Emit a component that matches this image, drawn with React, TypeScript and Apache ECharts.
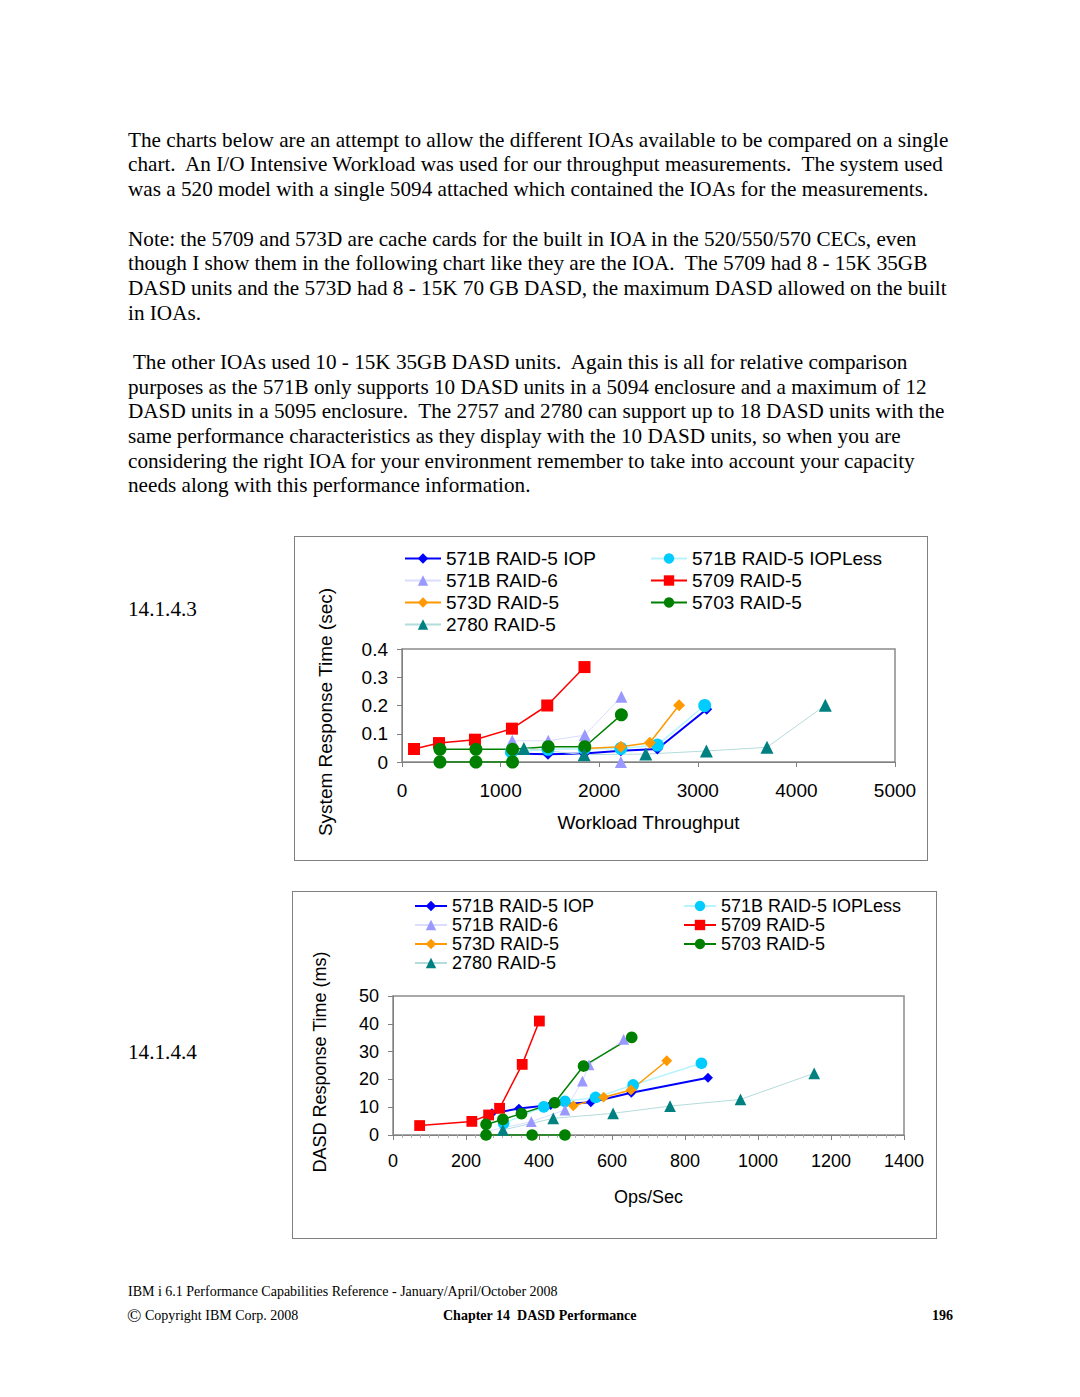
import React, { useEffect, useRef } from "react";
import * as echarts from "echarts";

// ---------- Data ----------
const legendCol1 = ["571B RAID-5 IOP", "571B RAID-6", "573D RAID-5", "2780 RAID-5"];
const legendCol2 = ["571B RAID-5 IOPLess", "5709 RAID-5", "5703 RAID-5"];

// Chart 14.1.4.3 : [Workload Throughput, System Response Time (sec)]
const iop1 = [[1100, 0.03], [1480, 0.027], [1850, 0.03], [2220, 0.04], [2590, 0.046], [3090, 0.187]];
const iopless1 = [[1110, 0.035], [1480, 0.045], [1850, 0.047], [2220, 0.048], [2590, 0.06], [3070, 0.2]];
const raid6_1 = [[1118, 0.075], [1483, 0.075], [1854, 0.095], [2225, 0.231]];
const raid6Zero1 = [[2220, 0]];
const r5709_1 = [[122, 0.046], [375, 0.067], [740, 0.079], [1115, 0.118], [1473, 0.2], [1851, 0.336]];
const r573d_1 = [[1854, 0.048], [2220, 0.054], [2513, 0.068], [2810, 0.201]];
const r5703_1 = [[385, 0.045], [750, 0.045], [1121, 0.045], [1483, 0.054], [1854, 0.054], [2225, 0.167]];
const r5703Zero1 = [[385, 0], [750, 0], [1121, 0]];
const r2780_1 = [[1236, 0.048], [1847, 0.026], [2472, 0.028], [3087, 0.039], [3702, 0.052], [4293, 0.201]];
const xTicks1 = { min: 0, max: 5000, interval: 1000 };
const yTicks1 = { min: 0, max: 0.4, interval: 0.1 };

// Chart 14.1.4.4 : [Ops/Sec, DASD Response Time (ms)]
const iop2 = [[271, 7.8], [345, 9.5], [432, 10.8], [542, 11.8], [653, 15.2], [863, 20.6]];
const iopless2 = [[303, 4.2], [413, 10.1], [471, 12.1], [555, 13.5], [658, 18.0], [845, 25.8]];
const raid6_2 = [[252, 1.2], [379, 4.8], [471, 9.0], [519, 19.4], [537, 25.2], [632, 34.4]];
const r5709_2 = [[73, 3.4], [216, 4.9], [262, 7.2], [292, 9.6], [354, 25.4], [401, 41.0]];
const r573d_2 = [[494, 10.5], [577, 13.6], [652, 16.2], [750, 26.7]];
const r5703_2 = [[255, 3.8], [301, 5.6], [352, 7.7], [443, 11.6], [522, 24.8], [654, 35.1]];
const r5703Zero2 = [[255, 0], [381, 0], [471, 0]];
const r2780_2 = [[301, 1.8], [439, 6.0], [603, 7.8], [759, 10.4], [952, 12.8], [1154, 22.2]];
const xTicks2 = { min: 0, max: 1400, interval: 200 };
const yTicks2 = { min: 0, max: 50, interval: 10 };

const para1 = [
  "The charts below are an attempt to allow the different IOAs available to be compared on a single",
  "chart.  An I/O Intensive Workload was used for our throughput measurements.  The system used",
  "was a 520 model with a single 5094 attached which contained the IOAs for the measurements.",
];
const para2 = [
  "Note: the 5709 and 573D are cache cards for the built in IOA in the 520/550/570 CECs, even",
  "though I show them in the following chart like they are the IOA.  The 5709 had 8 - 15K 35GB",
  "DASD units and the 573D had 8 - 15K 70 GB DASD, the maximum DASD allowed on the built",
  "in IOAs.",
];
const para3 = [
  " The other IOAs used 10 - 15K 35GB DASD units.  Again this is all for relative comparison",
  "purposes as the 571B only supports 10 DASD units in a 5094 enclosure and a maximum of 12",
  "DASD units in a 5095 enclosure.  The 2757 and 2780 can support up to 18 DASD units with the",
  "same performance characteristics as they display with the 10 DASD units, so when you are",
  "considering the right IOA for your environment remember to take into account your capacity",
  "needs along with this performance information.",
];

// ---------- Styles ----------
const SANS = "'Liberation Sans', Arial, sans-serif";
const SERIF = "'Liberation Serif', 'Times New Roman', serif";

const styleOf: Record<string, any> = {
  "571B RAID-5 IOP": { color: "#0000ff", line: "#0000ff", width: 2, symbol: "diamond", size: 11 },
  "571B RAID-5 IOPLess": { color: "#00ccff", line: "#b8f4ff", width: 1.5, symbol: "circle", size: 13 },
  "571B RAID-6": { color: "#9999ff", line: "#dcdcff", width: 1, symbol: "triangle", size: 12 },
  "5709 RAID-5": { color: "#ff0000", line: "#ff0000", width: 1.5, symbol: "rect", size: 12 },
  "573D RAID-5": { color: "#ff9900", line: "#ff9900", width: 1.5, symbol: "diamond", size: 12 },
  "5703 RAID-5": { color: "#008000", line: "#008000", width: 1.5, symbol: "circle", size: 13 },
  "2780 RAID-5": { color: "#008080", line: "#b4dcdc", width: 1, symbol: "triangle", size: 13 },
};

function mkSeries(name: string, data: number[][], scale: number) {
  const s = styleOf[name];
  return {
    type: "line",
    name,
    data,
    symbol: s.symbol,
    symbolSize: s.size * scale,
    showAllSymbol: true,
    itemStyle: { color: s.color },
    lineStyle: { color: s.line, width: s.width },
    emphasis: { disabled: true },
  };
}

function buildOption(cfg: any) {
  const series = [
    mkSeries("571B RAID-5 IOP", cfg.iop, cfg.scale),
    mkSeries("571B RAID-5 IOPLess", cfg.iopless, cfg.scale),
    mkSeries("571B RAID-6", cfg.raid6, cfg.scale),
    ...(cfg.raid6Zero ? [mkSeries("571B RAID-6", cfg.raid6Zero, cfg.scale)] : []),
    mkSeries("5709 RAID-5", cfg.r5709, cfg.scale),
    mkSeries("573D RAID-5", cfg.r573d, cfg.scale),
    mkSeries("5703 RAID-5", cfg.r5703, cfg.scale),
    mkSeries("5703 RAID-5", cfg.r5703Zero, cfg.scale),
    mkSeries("2780 RAID-5", cfg.r2780, cfg.scale),
  ];
  const legendBase = {
    orient: "vertical",
    itemWidth: cfg.legendIconW,
    itemHeight: 13,
    itemGap: cfg.legendGap,
    padding: 0,
    selectedMode: false,
    textStyle: { fontFamily: SANS, fontSize: cfg.font, color: "#000" },
  };
  const axisLine = { show: true, lineStyle: { color: "#808080", width: 1 } };
  return {
    animation: false,
    backgroundColor: "#ffffff",
    legend: [
      { ...legendBase, left: cfg.legendLeft1, top: cfg.legendTop, data: legendCol1 },
      { ...legendBase, left: cfg.legendLeft2, top: cfg.legendTop, data: legendCol2 },
    ],
    grid: {
      left: cfg.grid.left,
      top: cfg.grid.top,
      width: cfg.grid.width,
      height: cfg.grid.height,
      show: true,
      borderColor: "#8c8c8c",
      borderWidth: 1.5,
      backgroundColor: "transparent",
    },
    xAxis: {
      type: "value",
      min: cfg.xTicks.min,
      max: cfg.xTicks.max,
      interval: cfg.xTicks.interval,
      axisLine,
      axisTick: { show: true, length: 5, lineStyle: { color: "#808080" } },
      minorTick: cfg.minor
        ? { show: true, splitNumber: 8, length: 3, lineStyle: { color: "#b0b0b0" } }
        : { show: false },
      splitLine: { show: false },
      axisLabel: {
        fontFamily: SANS,
        fontSize: cfg.font,
        color: "#000",
        margin: cfg.xLabelMargin,
        formatter: (v: number) => String(v),
      },
      name: cfg.xName,
      nameLocation: "middle",
      nameGap: cfg.xNameGap,
      nameTextStyle: { fontFamily: SANS, fontSize: cfg.font, color: "#000" },
    },
    yAxis: {
      type: "value",
      min: cfg.yTicks.min,
      max: cfg.yTicks.max,
      interval: cfg.yTicks.interval,
      axisLine,
      axisTick: { show: true, length: 5, lineStyle: { color: "#808080" } },
      splitLine: { show: false },
      axisLabel: {
        fontFamily: SANS,
        fontSize: cfg.font,
        color: "#000",
        margin: cfg.yLabelMargin,
        formatter: cfg.yFormatter,
      },
    },
    graphic: [
      {
        type: "text",
        x: cfg.yName.x,
        y: cfg.yName.y,
        rotation: Math.PI / 2,
        style: {
          text: cfg.yName.text,
          fontFamily: SANS,
          fontSize: cfg.font,
          fill: "#000",
          align: "center",
          verticalAlign: "middle",
        },
      },
    ],
    series,
  };
}

const cfg1 = {
  scale: 1,
  font: 19,
  iop: iop1,
  iopless: iopless1,
  raid6: raid6_1,
  raid6Zero: raid6Zero1,
  r5709: r5709_1,
  r573d: r573d_1,
  r5703: r5703_1,
  r5703Zero: r5703Zero1,
  r2780: r2780_1,
  xTicks: xTicks1,
  yTicks: yTicks1,
  grid: { left: 107, top: 112, width: 493, height: 113 },
  legendLeft1: 109,
  legendLeft2: 355,
  legendTop: 12,
  legendGap: 3,
  legendIconW: 36,
  xLabelMargin: 19,
  yLabelMargin: 14,
  xName: "Workload Throughput",
  xNameGap: 51,
  minor: false,
  yFormatter: (v: number) => (v === 0 ? "0" : v.toFixed(1)),
  yName: { text: "System Response Time (sec)", x: 30, y: 175 },
};

const cfg2 = {
  scale: 0.9,
  font: 18,
  iop: iop2,
  iopless: iopless2,
  raid6: raid6_2,
  raid6Zero: null,
  r5709: r5709_2,
  r573d: r573d_2,
  r5703: r5703_2,
  r5703Zero: r5703Zero2,
  r2780: r2780_2,
  xTicks: xTicks2,
  yTicks: yTicks2,
  grid: { left: 100, top: 104, width: 511, height: 139 },
  legendLeft1: 121,
  legendLeft2: 390,
  legendTop: 5,
  legendGap: 1,
  legendIconW: 32,
  xLabelMargin: 17,
  yLabelMargin: 14,
  xName: "Ops/Sec",
  xNameGap: 53,
  minor: true,
  yFormatter: (v: number) => String(v),
  yName: { text: "DASD Response Time (ms)", x: 27, y: 170 },
};

function Chart({ option, w, h }: { option: any; w: number; h: number }) {
  const ref = useRef<HTMLDivElement>(null);
  useEffect(() => {
    if (!ref.current) return;
    const chart = echarts.init(ref.current, undefined, { renderer: "svg" });
    chart.setOption(option);
    return () => chart.dispose();
  }, [option]);
  return <div ref={ref} style={{ width: w, height: h }} />;
}

function Lines({ lines, centers, left }: { lines: string[]; centers: number[]; left: number }) {
  return (
    <>
      {lines.map((t, i) => (
        <div
          key={i}
          style={{
            position: "absolute",
            left,
            top: centers[i] - 12,
            height: 24,
            lineHeight: "24px",
            fontFamily: SERIF,
            fontSize: 21.2,
            whiteSpace: "pre",
            color: "#000",
          }}
        >
          {t}
        </div>
      ))}
    </>
  );
}

export default function App() {
  const opt1 = React.useMemo(() => buildOption(cfg1), []);
  const opt2 = React.useMemo(() => buildOption(cfg2), []);
  return (
    <div
      style={{
        position: "absolute",
        left: 0,
        top: 0,
        width: 1080,
        height: 1397,
        background: "#fff",
        overflow: "hidden",
      }}
    >
      <Lines lines={para1} centers={[140, 164, 189]} left={128} />
      <Lines lines={para2} centers={[239, 263, 288, 313]} left={128} />
      <Lines lines={para3} centers={[362, 387, 411, 436, 461, 485]} left={128} />
      <Lines lines={["14.1.4.3"]} centers={[609]} left={128} />
      <Lines lines={["14.1.4.4"]} centers={[1052]} left={128} />

      <div
        style={{
          position: "absolute",
          left: 294,
          top: 536,
          width: 634,
          height: 325,
          boxSizing: "border-box",
          border: "1px solid #808080",
        }}
      >
        <Chart option={opt1} w={632} h={323} />
      </div>

      <div
        style={{
          position: "absolute",
          left: 292,
          top: 891,
          width: 645,
          height: 348,
          boxSizing: "border-box",
          border: "1px solid #808080",
        }}
      >
        <Chart option={opt2} w={643} h={346} />
      </div>

      <div
        style={{
          position: "absolute",
          left: 128,
          top: 1284,
          fontFamily: SERIF,
          fontSize: 14,
          lineHeight: "16px",
          whiteSpace: "pre",
        }}
      >
        IBM i 6.1 Performance Capabilities Reference - January/April/October 2008
      </div>
      <div
        style={{
          position: "absolute",
          left: 127,
          top: 1307,
          fontFamily: SERIF,
          fontSize: 14,
          lineHeight: "18px",
          whiteSpace: "pre",
        }}
      >
        <span style={{ fontSize: 19, verticalAlign: "-2px" }}>©</span> Copyright IBM Corp. 2008
      </div>
      <div
        style={{
          position: "absolute",
          left: 443,
          top: 1308,
          fontFamily: SERIF,
          fontSize: 14,
          fontWeight: "bold",
          lineHeight: "16px",
          whiteSpace: "pre",
        }}
      >
        Chapter 14  DASD Performance
      </div>
      <div
        style={{
          position: "absolute",
          left: 932,
          top: 1308,
          fontFamily: SERIF,
          fontSize: 14,
          fontWeight: "bold",
          lineHeight: "16px",
        }}
      >
        196
      </div>
    </div>
  );
}
